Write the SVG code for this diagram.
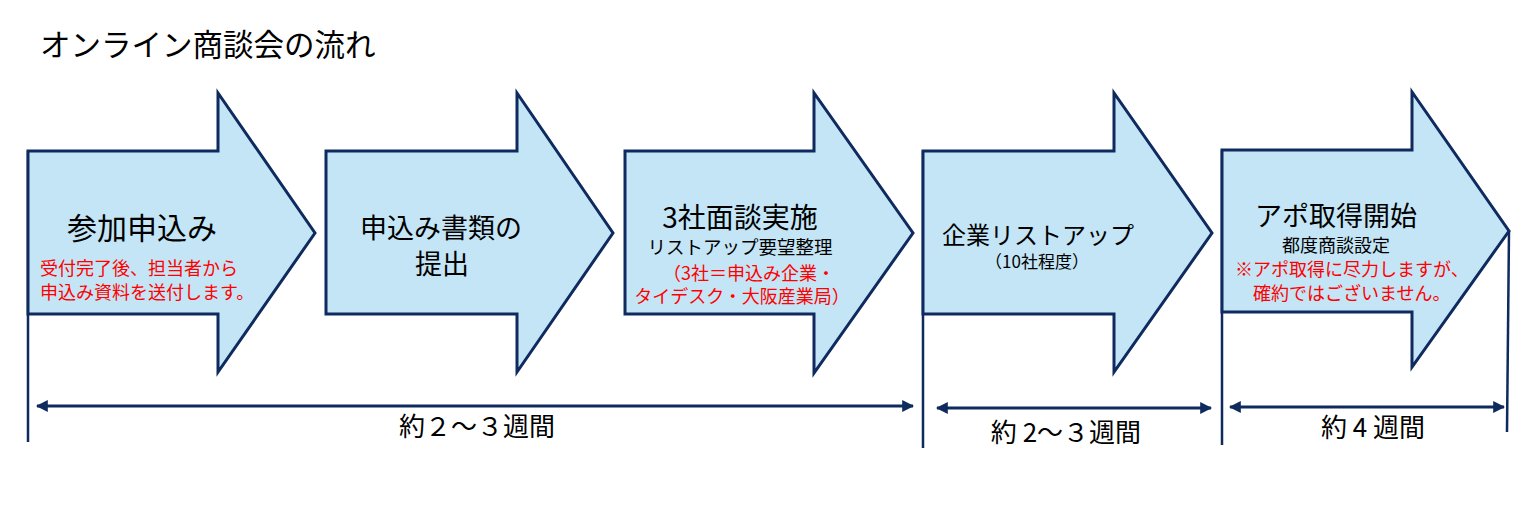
<svg xmlns="http://www.w3.org/2000/svg" width="1539" height="507" viewBox="0 0 1539 507">
<defs>
<style>
.arr{fill:#C3E5F5;stroke:#0E2A5E;stroke-width:3;stroke-linejoin:miter}
.vl{stroke:#0E2A5E;stroke-width:2.5;fill:none}
.dim{stroke:#0E2A5E;stroke-width:3;fill:none;marker-start:url(#ah);marker-end:url(#ah)}
text{font-family:"Noto Sans CJK JP","Noto Sans",sans-serif;fill:#000}
.red{fill:#FF0000;font-size:18px}
.big{font-size:28px}
.sm{font-size:18.5px}
.dur{font-size:26px}
</style>
<marker id="ah" viewBox="0 0 10 10" refX="9" refY="5" markerWidth="4" markerHeight="4" orient="auto-start-reverse" markerUnits="strokeWidth">
<path d="M0,0 L10,5 L0,10 z" fill="#0E2A5E"/>
</marker>
</defs>
<rect width="1539" height="507" fill="#fff"/>
<text x="40" y="56" font-size="30.5">オンライン商談会の流れ</text>

<g id="connectors">
<line class="vl" x1="28" y1="151" x2="28" y2="442"/>
<line class="vl" x1="923" y1="151" x2="923" y2="448"/>
<line class="vl" x1="1222" y1="150" x2="1222" y2="445"/>
<line class="vl" x1="1509" y1="231" x2="1507" y2="432"/>
<line class="dim" x1="37" y1="406" x2="913" y2="406"/>
<line class="dim" x1="937" y1="408" x2="1211" y2="408"/>
<line class="dim" x1="1230" y1="407" x2="1504" y2="407"/>
</g>

<g id="node1">
<polygon class="arr" points="28,151 218,151 218,93 315,233 218,372 218,314 28,314"/>
<text x="67" y="239" font-size="30">参加申込み</text>
<text class="red" x="40" y="275" font-size="19">受付完了後、担当者から</text>
<text class="red" x="40" y="299" font-size="19">申込み資料を送付します。</text>
</g>

<g id="node2">
<polygon class="arr" points="326,151 517,151 517,93 613,233 517,372 517,314 326,314"/>
<text x="360" y="238" font-size="27">申込み書類の</text>
<text x="415" y="274" font-size="27">提出</text>
</g>

<g id="node3">
<polygon class="arr" points="625,151 814,151 814,93 913,233 814,373 814,314 625,314"/>
<text class="big" x="740" y="228" text-anchor="middle">3社面談実施</text>
<text class="sm" x="740" y="254" text-anchor="middle">リストアップ要望整理</text>
<text class="red" x="749" y="280" text-anchor="middle">（3社＝申込み企業・</text>
<text class="red" x="742" y="303" text-anchor="middle">タイデスク・大阪産業局）</text>
</g>

<g id="node4">
<polygon class="arr" points="923,151 1114,151 1114,93 1212,233 1114,372 1114,314 923,314"/>
<text x="942" y="244" font-size="24">企業リストアップ</text>
<text x="1037" y="268" font-size="17" text-anchor="middle">（10社程度）</text>
</g>

<g id="node5">
<polygon class="arr" points="1222,150 1412,150 1412,92 1509,231 1412,367 1412,312 1222,312"/>
<text x="1255" y="226" font-size="27">アポ取得開始</text>
<text x="1336" y="252" font-size="18" text-anchor="middle">都度商談設定</text>
<text class="red" x="1235" y="276" font-size="17.8">※アポ取得に尽力しますが、</text>
<text class="red" x="1253" y="300" font-size="17.8">確約ではございません。</text>
</g>

<g id="durations">
<text class="dur" x="477" y="436" text-anchor="middle">約２～３週間</text>
<text class="dur" x="1066" y="442" text-anchor="middle">約 2～３週間</text>
<text class="dur" x="1373" y="437" text-anchor="middle">約 4 週間</text>
</g>
</svg>
